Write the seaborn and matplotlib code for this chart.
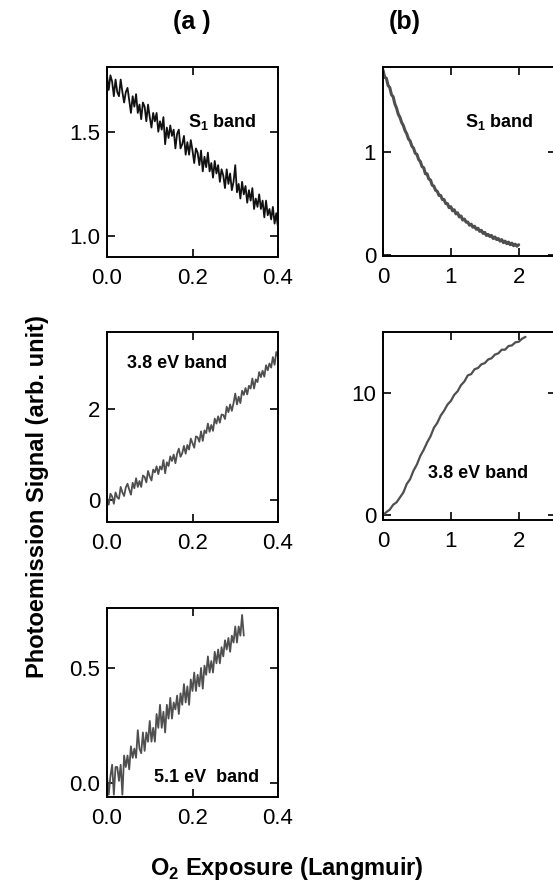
import numpy as np
import pandas as pd
import matplotlib
matplotlib.use("Agg")
import matplotlib.pyplot as plt
import seaborn as sns

# ---------------- data ----------------
# (a) S1 band, 0 - 0.4 L
a_s1_signal = [1.77, 1.70, 1.77, 1.74, 1.67, 1.75, 1.69, 1.67, 1.75, 1.69,
               1.64, 1.69, 1.71, 1.65, 1.59, 1.67, 1.62, 1.68, 1.59, 1.63,
               1.56, 1.64, 1.62, 1.55, 1.63, 1.57, 1.52, 1.59, 1.55, 1.59,
               1.50, 1.55, 1.51, 1.57, 1.44, 1.52, 1.47, 1.53, 1.48, 1.51,
               1.42, 1.49, 1.51, 1.42, 1.44, 1.48, 1.39, 1.45, 1.39, 1.46,
               1.41, 1.35, 1.42, 1.40, 1.34, 1.41, 1.31, 1.38, 1.33, 1.40,
               1.31, 1.35, 1.28, 1.36, 1.30, 1.34, 1.26, 1.32, 1.29, 1.23,
               1.32, 1.25, 1.30, 1.22, 1.26, 1.34, 1.21, 1.25, 1.18, 1.26,
               1.20, 1.24, 1.16, 1.22, 1.17, 1.23, 1.13, 1.18, 1.14, 1.20,
               1.13, 1.17, 1.09, 1.17, 1.10, 1.13, 1.08, 1.14, 1.06, 1.11,
               1.04]
# (a) 3.8 eV band, 0 - 0.4 L
a_38_signal = [0.05, -0.10, 0.14, 0.08, -0.08, 0.17, 0.06, 0.03, 0.29, 0.17,
               0.09, 0.28, 0.36, 0.23, 0.12, 0.38, 0.26, 0.48, 0.29, 0.42,
               0.29, 0.54, 0.51, 0.39, 0.64, 0.52, 0.43, 0.67, 0.61, 0.74,
               0.57, 0.74, 0.67, 0.88, 0.59, 0.83, 0.75, 0.96, 0.86, 1.00,
               0.81, 1.02, 1.13, 0.95, 1.03, 1.19, 1.02, 1.21, 1.11, 1.35,
               1.25, 1.15, 1.40, 1.38, 1.28, 1.51, 1.30, 1.53, 1.47, 1.68,
               1.50, 1.65, 1.52, 1.79, 1.68, 1.84, 1.70, 1.88, 1.87, 1.78,
               2.05, 1.93, 2.10, 1.96, 2.13, 2.34, 2.10, 2.27, 2.13, 2.40,
               2.31, 2.46, 2.32, 2.51, 2.45, 2.67, 2.45, 2.65, 2.59, 2.81,
               2.70, 2.84, 2.71, 2.96, 2.85, 3.00, 2.91, 3.14, 2.97, 3.25,
               3.15]
# (a) 5.1 eV band, 0 - 0.32 L
a_51_signal = [0.03, -0.05, 0.03, 0.08, -0.05, 0.07, 0.07, 0.01, 0.08, -0.05,
               0.12, 0.07, 0.12, 0.06, 0.16, 0.11, 0.15, 0.11, 0.23, 0.15,
               0.13, 0.22, 0.14, 0.22, 0.18, 0.27, 0.18, 0.24, 0.18, 0.30,
               0.24, 0.34, 0.24, 0.31, 0.22, 0.34, 0.28, 0.37, 0.28, 0.35,
               0.32, 0.38, 0.30, 0.39, 0.34, 0.43, 0.35, 0.42, 0.34, 0.45,
               0.40, 0.48, 0.40, 0.47, 0.42, 0.50, 0.41, 0.51, 0.47, 0.55,
               0.48, 0.53, 0.48, 0.57, 0.52, 0.58, 0.52, 0.59, 0.55, 0.62,
               0.58, 0.63, 0.57, 0.64, 0.61, 0.68, 0.61, 0.68, 0.64, 0.73,
               0.64]
# (b) S1 band, 0 - 2 L
b_s1_signal = [1.80, 1.73, 1.72, 1.65, 1.63, 1.56, 1.54, 1.47, 1.43, 1.37,
               1.34, 1.29, 1.26, 1.21, 1.18, 1.13, 1.11, 1.06, 1.04, 0.99,
               0.98, 0.93, 0.91, 0.86, 0.85, 0.79, 0.79, 0.74, 0.73, 0.68,
               0.67, 0.63, 0.62, 0.58, 0.58, 0.54, 0.54, 0.50, 0.50, 0.46,
               0.47, 0.43, 0.44, 0.40, 0.41, 0.37, 0.38, 0.34, 0.35, 0.32,
               0.32, 0.29, 0.30, 0.27, 0.28, 0.25, 0.26, 0.23, 0.24, 0.21,
               0.22, 0.19, 0.20, 0.18, 0.19, 0.16, 0.175, 0.15, 0.16, 0.135,
               0.15, 0.12, 0.135, 0.11, 0.125, 0.10, 0.115, 0.09, 0.105, 0.085,
               0.10]
# (b) 3.8 eV band, 0 - 2.1 L
b_38_signal = [0.0, 0.25, 0.45, 0.85, 1.05, 1.45, 1.85, 2.55, 2.95, 3.65,
               4.15, 4.85, 5.35, 5.95, 6.45, 7.15, 7.55, 8.15, 8.55, 9.05,
               9.35, 9.85, 10.15, 10.65, 10.95, 11.45, 11.55, 11.95, 12.05, 12.35,
               12.45, 12.75, 12.85, 13.15, 13.25, 13.55, 13.55, 13.85, 13.9, 14.15,
               14.2, 14.45, 14.6]

a_exposure = np.linspace(0.0, 0.4, len(a_s1_signal))
a51_exposure = np.linspace(0.0, 0.32, len(a_51_signal))
b_s1_exposure = np.linspace(0.0, 2.0, len(b_s1_signal))
b_38_exposure = np.linspace(0.0, 2.1, len(b_38_signal))

# ---------------- style ----------------
sns.set_theme(style="ticks")
plt.rcParams["font.family"] = ["Liberation Sans", "DejaVu Sans"]
plt.rcParams["mathtext.fontset"] = "custom"
plt.rcParams["mathtext.rm"] = "Liberation Sans"
plt.rcParams["mathtext.bf"] = "Liberation Sans:bold"
plt.rcParams["text.color"] = "black"
plt.rcParams["axes.labelcolor"] = "black"
plt.rcParams["xtick.color"] = "black"
plt.rcParams["ytick.color"] = "black"

W, H = 553, 886
fig = plt.figure(figsize=(W / 100, H / 100), dpi=100)
fig.patch.set_facecolor("white")


def box(left, top, right, bottom):
    return [left / W, 1 - bottom / H, (right - left) / W, (bottom - top) / H]


def style(ax, xlim, ylim, xticks, xlabels, yticks, ylabels):
    ax.set_xlim(*xlim)
    ax.set_ylim(*ylim)
    ax.set_xticks(xticks)
    ax.set_xticklabels(xlabels)
    ax.set_yticks(yticks)
    ax.set_yticklabels(ylabels)
    ax.tick_params(direction="in", length=6, width=1.2, top=True, right=True,
                   labelsize=16, colors="black", labelcolor="black")
    ax.tick_params(axis="x", pad=8)
    ax.tick_params(axis="y", pad=5)
    for s in ax.spines.values():
        s.set_visible(True)
        s.set_linewidth(1.4)
        s.set_color("black")
    ax.set_xlabel("")
    ax.set_ylabel("")
    ax.set_facecolor("white")
    ax.grid(False)


dark = "#111111"
grey = "#4f4f4f"
ann = dict(fontsize=13, fontweight="bold", ha="center", va="center",
           color="black")

# (a) top
ax1 = fig.add_axes(box(107, 67, 278, 257))
sns.lineplot(x=a_exposure, y=a_s1_signal, ax=ax1, color=dark, linewidth=1.3)
style(ax1, (0, 0.4), (0.9, 1.81), [0, 0.2, 0.4], ["0.0", "0.2", "0.4"],
      [1.0, 1.5], ["1.0", "1.5"])
ax1.text(0.27, 1.545, r"S$_\mathbf{1}$ band", **ann)

# (b) top
ax2 = fig.add_axes(box(383, 67, 556, 256))
sns.lineplot(x=b_s1_exposure, y=b_s1_signal, ax=ax2, color=grey, linewidth=2.2)
style(ax2, (0, 2.55), (-0.01, 1.83), [0, 1, 2], ["0", "1", "2"],
      [0, 1], ["0", "1"])
ax2.text(1.72, 1.29, r"S$_\mathbf{1}$ band", **ann)

# (a) middle
ax3 = fig.add_axes(box(107, 332, 278, 522))
sns.lineplot(x=a_exposure, y=a_38_signal, ax=ax3, color=grey, linewidth=1.3)
style(ax3, (0, 0.4), (-0.48, 3.69), [0, 0.2, 0.4], ["0.0", "0.2", "0.4"],
      [0, 2], ["0", "2"])
ax3.text(0.164, 3.0, "3.8 eV band", **ann)

# (b) middle
ax4 = fig.add_axes(box(383, 332, 556, 520))
sns.lineplot(x=b_38_exposure, y=b_38_signal, ax=ax4, color=grey, linewidth=1.6)
style(ax4, (0, 2.55), (-0.4, 15.0), [0, 1, 2], ["0", "1", "2"],
      [0, 10], ["0", "10"])
ax4.text(1.40, 3.4, "3.8 eV band", **ann)

# (a) bottom
ax5 = fig.add_axes(box(107, 608, 278, 797))
sns.lineplot(x=a51_exposure, y=a_51_signal, ax=ax5, color=grey, linewidth=1.3)
style(ax5, (0, 0.4), (-0.06, 0.76), [0, 0.2, 0.4], ["0.0", "0.2", "0.4"],
      [0.0, 0.5], ["0.0", "0.5"])
ax5.text(0.234, 0.026, "5.1 eV  band", **ann)

# panel letters and shared labels
fig.text(192 / W, 1 - 22 / H, "(a )", fontsize=18, fontweight="bold",
         ha="center", va="center", color="black")
fig.text(405 / W, 1 - 22 / H, "(b)", fontsize=18, fontweight="bold",
         ha="center", va="center", color="black")
fig.text(38 / W, 1 - 497 / H, "Photoemission Signal (arb. unit)", fontsize=17,
         fontweight="bold", rotation=90, ha="center", va="center",
         color="black")
fig.text(287 / W, 1 - 868 / H, r"O$_\mathbf{2}$ Exposure (Langmuir)",
         fontsize=17, fontweight="bold", ha="center", va="center",
         color="black")

fig.savefig("out.png", dpi=100, facecolor="white")
